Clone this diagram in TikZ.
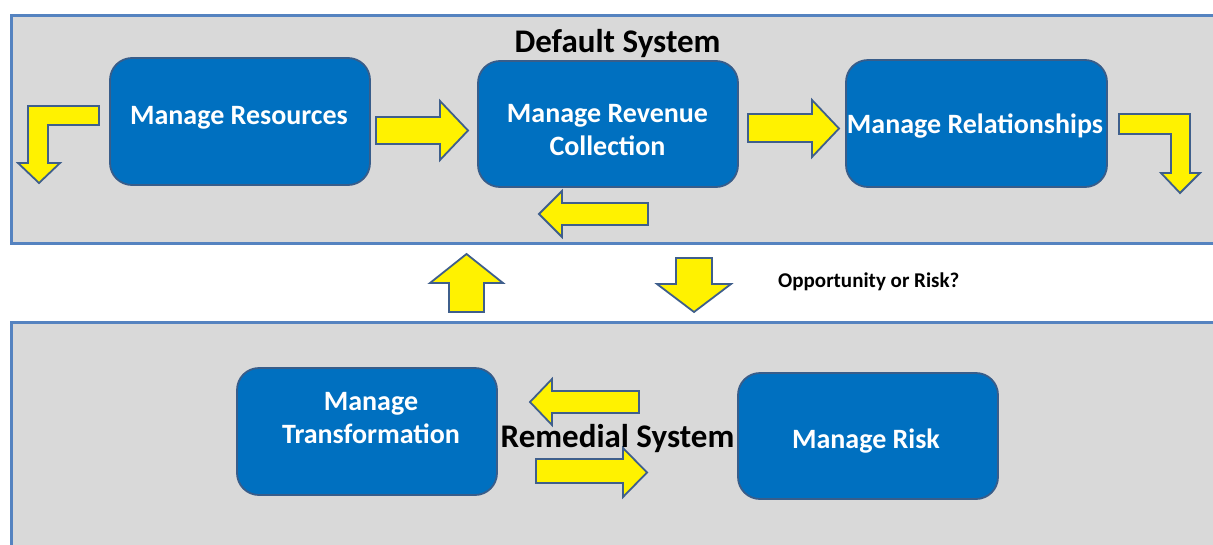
\documentclass[tikz,border=0pt]{standalone}
\usepackage{fontspec}
\setmainfont{Carlito}
\definecolor{panelfill}{HTML}{D9D9D9}
\definecolor{panelline}{HTML}{5583C0}
\definecolor{boxfill}{HTML}{0070C0}
\definecolor{boxline}{HTML}{385D8A}
\definecolor{arrline}{HTML}{3F5F8C}
\tikzset{
  panel/.style={fill=panelfill,draw=panelline,line width=3pt},
  procbox/.style={draw=boxline,fill=boxfill,line width=1.8pt,rounded corners=22pt,rectangle,inner sep=0pt},
  boxtext/.style={text=white,font=\fontsize{28}{32}\selectfont\bfseries,anchor=base,inner sep=0pt},
  titletext/.style={text=black,font=\fontsize{33}{38}\selectfont\bfseries,anchor=base,inner sep=0pt},
  blockarrow/.style={fill=yellow,draw=arrline,line width=1.8pt,line join=miter},
}
\begin{document}
\begin{tikzpicture}[x=1pt,y=-1pt]
\useasboundingbox (0,0) rectangle (1213,544);
\clip (0,0) rectangle (1213,544);
\fill[white] (0,0) rectangle (1213,544);
% panels
\draw[panel] (11,15) rectangle (1225,243);
\draw[panel] (11,322) rectangle (1225,560);
% boxes
\node[procbox,minimum width=260pt,minimum height=127pt] (res) at (240,121.5) {};
\node[procbox,minimum width=260pt,minimum height=126pt] (rev) at (608,124) {};
\node[procbox,minimum width=261pt,minimum height=127pt] (rel) at (976.5,123.5) {};
\node[procbox,minimum width=260pt,minimum height=127pt] (tra) at (367,431.5) {};
\node[procbox,minimum width=260pt,minimum height=126pt] (risk) at (868,436) {};
% labels
\node[boxtext] (tres) at (239,124) {Manage Resources};
\node[boxtext] (trev1) at (607.5,122) {Manage Revenue};
\node[boxtext] (trev2) at (607.5,155) {Collection};
\node[boxtext] (trel) at (975,133) {Manage Relationships};
\node[boxtext] (ttra1) at (371,410) {Manage};
\node[boxtext] (ttra2) at (371,443) {Transformation};
\node[boxtext] (trisk) at (866,448) {Manage Risk};
% block arrows
\draw[blockarrow] (99,106) -- (28,106) -- (28,163) -- (18,163) -- (39,183) -- (60,163) -- (48,163) -- (48,125) -- (99,125) -- cycle;
\draw[blockarrow] (376,117) -- (440,117) -- (440,101) -- (468,130.5) -- (440,160) -- (440,144) -- (376,144) -- cycle;
\draw[blockarrow] (748,114) -- (812,114) -- (812,100) -- (839,128.5) -- (812,157) -- (812,142) -- (748,142) -- cycle;
\draw[blockarrow] (1119,114) -- (1190,114) -- (1190,173) -- (1200,173) -- (1180,193) -- (1161,173) -- (1171,173) -- (1171,134) -- (1119,134) -- cycle;
\draw[blockarrow] (648,203) -- (562,203) -- (562,191) -- (539,214) -- (562,237) -- (562,225) -- (648,225) -- cycle;
\draw[blockarrow] (449,312) -- (449,283) -- (430,283) -- (466.5,254) -- (503,283) -- (484,283) -- (484,312) -- cycle;
\draw[blockarrow] (676,258) -- (712,258) -- (712,284) -- (731,284) -- (694,312) -- (657,284) -- (676,284) -- cycle;
\draw[blockarrow] (639,391) -- (552,391) -- (552,379) -- (530,402) -- (552,425) -- (552,413) -- (639,413) -- cycle;
\draw[blockarrow] (536,459) -- (623,459) -- (623,448) -- (647,472.5) -- (623,497) -- (623,483) -- (536,483) -- cycle;
% titles
\node[titletext] (tdef) at (617.5,52) {Default System};
\node[titletext] (trem) at (617.5,447) {Remedial System};
\node[text=black,font=\fontsize{21}{24}\selectfont\bfseries,anchor=base west,inner sep=0pt] (topp) at (778,287) {Opportunity or Risk?};
\end{tikzpicture}
\end{document}
